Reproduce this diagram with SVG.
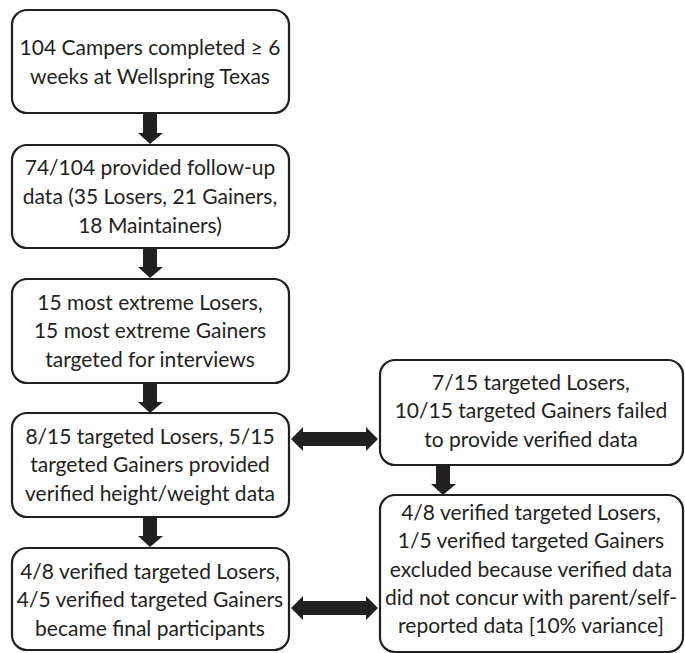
<svg xmlns="http://www.w3.org/2000/svg" width="685" height="653" viewBox="0 0 685 653">
<style>
.box{fill:#fff;stroke:#231f20;stroke-width:2.2}
.t{font-family:Lato,"Liberation Sans",sans-serif;font-size:21px;fill:#231f20;text-anchor:middle}
.arr{fill:#231f20}
</style>
<rect width="685" height="653" fill="#fff"/>
<g id="connectors">
<path class="arr" d="M143,113 H157 V133 H163 L150,144 L138,133 H143 Z"/>
<path class="arr" d="M143,248 H157 V267 H163 L150,278 L138,267 H143 Z"/>
<path class="arr" d="M143,383 H157 V402 H163 L150,413 L138,402 H143 Z"/>
<path class="arr" d="M143,517 H157 V536 H163 L150,547 L138,536 H143 Z"/>
<path class="arr" d="M436,465 H450 V484 H456 L443,495 L431,484 H436 Z"/>
<path class="arr" d="M291,439 L303,427 V432 H366 V427 L378,439 L366,451 V446 H303 V451 Z"/>
<path class="arr" d="M291,608 L303,596 V601 H366 V596 L378,608 L366,620 V615 H303 V620 Z"/>
</g>
<g id="n1">
<rect class="box" x="12" y="10" width="277" height="103" rx="15"/>
<text class="t" x="150" y="55">104 Campers completed ≥ 6</text>
<text class="t" x="150" y="84">weeks at Wellspring Texas</text>
</g>
<g id="n2">
<rect class="box" x="12" y="145" width="277" height="103" rx="15"/>
<text class="t" x="150" y="175">74/104 provided follow-up</text>
<text class="t" x="150" y="204">data (35 Losers, 21 Gainers,</text>
<text class="t" x="150" y="233">18 Maintainers)</text>
</g>
<g id="n3">
<rect class="box" x="12" y="279" width="277" height="104" rx="15"/>
<text class="t" x="150" y="310">15 most extreme Losers,</text>
<text class="t" x="150" y="338">15 most extreme Gainers</text>
<text class="t" x="150" y="367">targeted for interviews</text>
</g>
<g id="n4">
<rect class="box" x="12" y="413" width="277" height="104" rx="15"/>
<text class="t" x="150" y="444">8/15 targeted Losers, 5/15</text>
<text class="t" x="150" y="472">targeted Gainers provided</text>
<text class="t" x="150" y="501">verified height/weight data</text>
</g>
<g id="n5">
<rect class="box" x="12" y="548" width="277" height="102" rx="15"/>
<text class="t" x="150" y="579">4/8 verified targeted Losers,</text>
<text class="t" x="150" y="607">4/5 verified targeted Gainers</text>
<text class="t" x="150" y="636">became final participants</text>
</g>
<g id="n6">
<rect class="box" x="380" y="360" width="303" height="105" rx="15"/>
<text class="t" x="531" y="390">7/15 targeted Losers,</text>
<text class="t" x="531" y="418">10/15 targeted Gainers failed</text>
<text class="t" x="531" y="447">to provide verified data</text>
</g>
<g id="n7">
<rect class="box" x="380" y="495" width="303" height="157" rx="15"/>
<text class="t" x="531" y="520">4/8 verified targeted Losers,</text>
<text class="t" x="531" y="548">1/5 verified targeted Gainers</text>
<text class="t" x="531" y="577">excluded because verified data</text>
<text class="t" x="531" y="605">did not concur with parent/self-</text>
<text class="t" x="531" y="633">reported data [10% variance]</text>
</g>
</svg>
